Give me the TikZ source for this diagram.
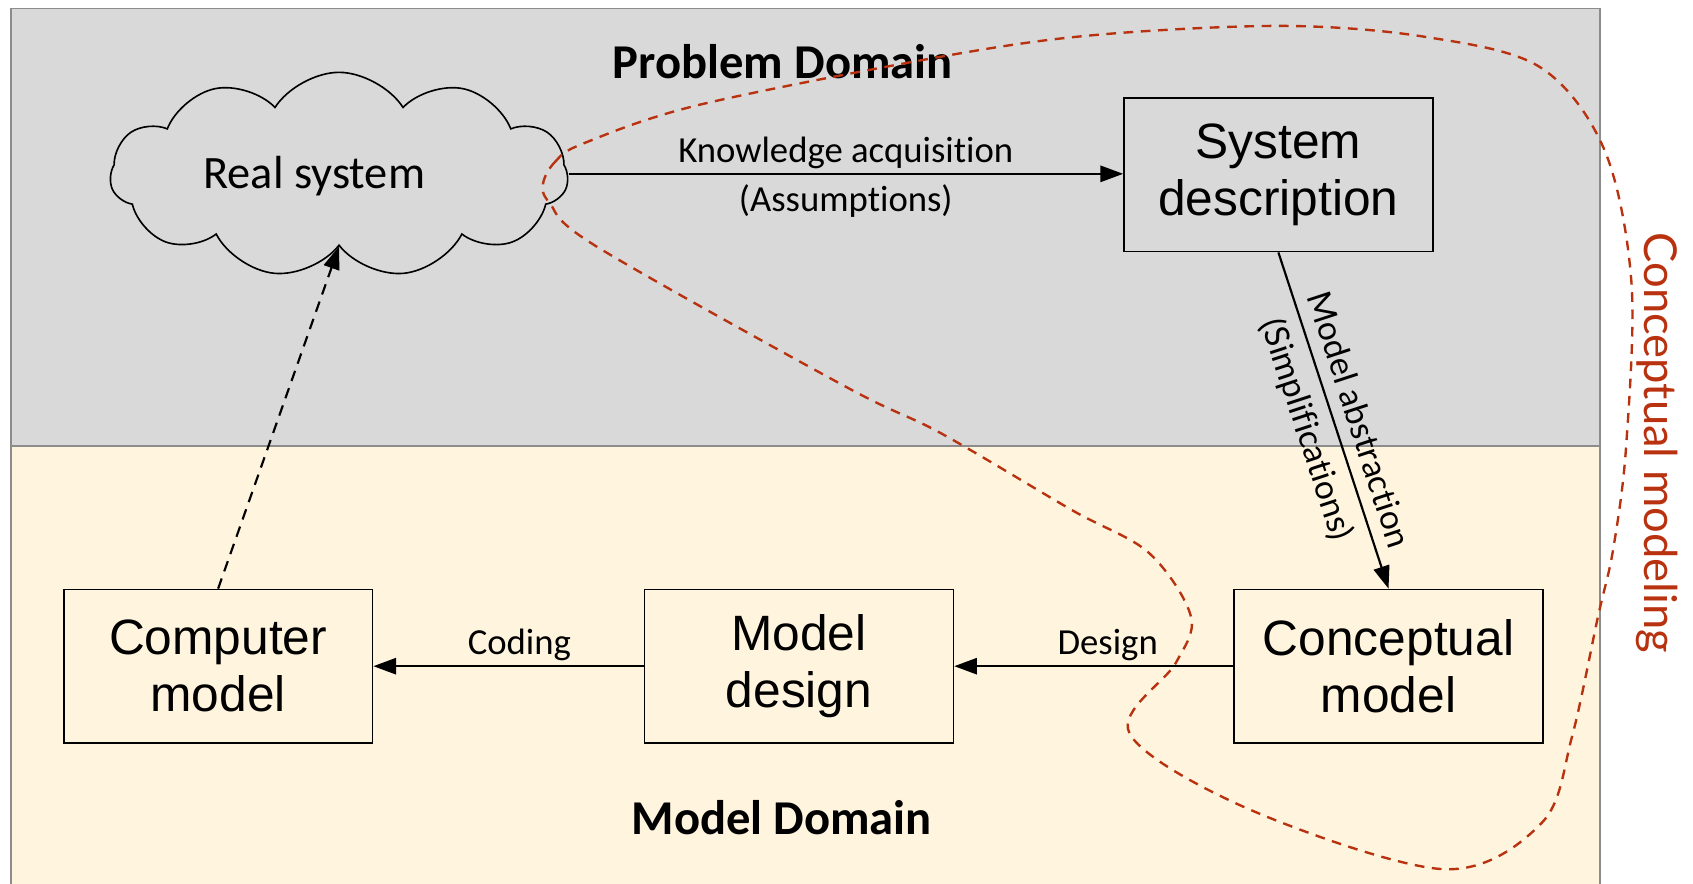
\documentclass[tikz,border=0pt]{standalone}
\usepackage{fontspec}
\setmainfont{Carlito}[Ligatures={NoCommon}]
\newfontfamily\arialf{Liberation Sans}
\newfontfamily\latof{Lato}[Ligatures={NoCommon}]
\usetikzlibrary{shapes.symbols,arrows.meta}
\definecolor{pgray}{RGB}{217,217,217}
\definecolor{mcream}{RGB}{255,244,222}
\definecolor{framegray}{RGB}{140,140,140}
\definecolor{cmred}{RGB}{184,50,16}
\tikzset{
  box/.style={draw=black,line width=1.6pt,minimum width=286pt,minimum height=142pt,inner sep=0pt,align=center,
    font=\arialf\fontsize{46}{53}\selectfont},
  flow/.style={line width=2pt,-{Triangle[length=21pt,width=15pt]}},
  lbl/.style={font=\fontsize{34}{40}\selectfont,inner sep=4pt},
  slbl/.style={font=\latof\fontsize{31}{35}\selectfont,inner sep=11pt},
  domtitle/.style={font=\bfseries\fontsize{45}{50}\selectfont},
}
\begin{document}
\begin{tikzpicture}[x=1pt,y=-1pt]
\useasboundingbox (0,0) rectangle (1568,818);
% backgrounds
\fill[pgray] (10,8) rectangle (1482,413);
\fill[mcream] (10,413) rectangle (1482,830);
\draw[framegray,line width=1.5pt] (10,830) -- (10,8) -- (1482,8) -- (1482,830);
\draw[framegray,line width=1.5pt] (10,413) -- (1482,413);
% domain titles
\node[domtitle] (pd) at (725,57) {Problem Domain};
\node[domtitle] (md) at (724,757) {Model Domain};
% cloud
\node[cloud,draw=black,fill=pgray,line width=1.5pt,cloud puffs=11,cloud puff arc=115,aspect=2.27,
  minimum width=424pt,minimum height=190pt,inner sep=0pt] (cloud) at (314,162) {};
\node[font=\fontsize{43}{48}\selectfont] (rs) at (291,163) {Real system};
% boxes
\node[box] (sys) at (1184,162) {System\\description};
\node[box] (con) at (1286,617) {Conceptual\\model};
\node[box] (mdes) at (740,617) {Model\\design};
\node[box] (comp) at (202,617) {Computer\\model};
% arrows
\draw[flow] (cloud.east |- 0,161) -- (sys.west |- 0,161)
  node[lbl,midway,above] (ka) {Knowledge acquisition}
  node[lbl,midway,below,inner sep=9pt] (as) {(Assumptions)};
\draw[flow] (sys.south) -- (con.north)
  node[slbl,pos=0.52,sloped,above] (mab) {Model abstraction}
  node[slbl,pos=0.5,sloped,below] (simp) {(Simplifications)};
\draw[flow] (con.west) -- (mdes.east) node[lbl,pos=0.45,above] (dg) {Design};
\draw[flow] (mdes.west) -- (comp.east) node[lbl,pos=0.46,above] (cd) {Coding};
\draw[flow,dashed,dash pattern=on 10pt off 7pt] (comp.north) -- (cloud.south);
% conceptual modeling curve
\draw[cmred,line width=2.2pt,dash pattern=on 9pt off 7pt] plot[smooth cycle,tension=0.55] coordinates {
 (503,170) (514,150) (540,133) (648,97) (880,51) (1019,32) (1189,24) (1319,34) (1426,62)
 (1486,139) (1511,262) (1506,414) (1494,509) (1480,571) (1456,682) (1428,762) (1337,805)
 (1158,750) (1046,679) (1089,614) (1103,571) (1064,512) (992,472) (871,401) (783,358)
 (552,228) (509,188)};
\node[text=cmred,font=\latof\fontsize{42}{46}\selectfont,rotate=-90] (cm) at (1535,410) {Conceptual modeling};
\end{tikzpicture}
\end{document}
